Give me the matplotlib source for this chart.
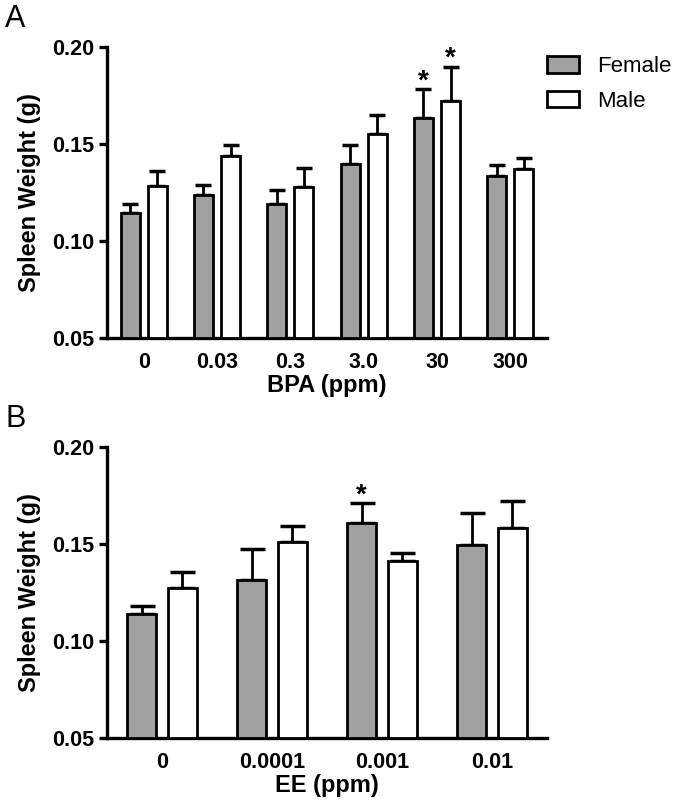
import numpy as np
import matplotlib
matplotlib.use("Agg")
import matplotlib.pyplot as plt
import matplotlib.patches as mpatches

plt.rcParams['font.family'] = ['Liberation Sans', 'DejaVu Sans']

# panel A: BPA
bpa_doses = ["0", "0.03", "0.3", "3.0", "30", "300"]
bpa_female = [0.1145, 0.1236, 0.1189, 0.1399, 0.1635, 0.1333]
bpa_female_err = [0.0048, 0.0055, 0.0076, 0.0094, 0.0146, 0.0057]
bpa_male = [0.1282, 0.1440, 0.1280, 0.1549, 0.1721, 0.1373]
bpa_male_err = [0.0078, 0.0056, 0.0098, 0.0101, 0.0178, 0.0054]
bpa_sig_female = [False, False, False, False, True, False]
bpa_sig_male = [False, False, False, False, True, False]

# panel B: EE
ee_doses = ["0", "0.0001", "0.001", "0.01"]
ee_female = [0.1139, 0.1314, 0.1606, 0.1494]
ee_female_err = [0.0043, 0.0160, 0.0103, 0.0167]
ee_male = [0.1275, 0.1508, 0.1412, 0.1580]
ee_male_err = [0.0079, 0.0084, 0.0043, 0.0140]
ee_sig_female = [False, False, True, False]
ee_sig_male = [False, False, False, False]

GRAY = '#a0a0a0'
W, H = 675, 805


def drawPanel(ax, doses, female, female_err, male, male_err, sig_f, sig_m, xlabel, capsize):
    x = np.arange(len(doses))
    width = 0.26
    off = 0.185
    for xs, vals, errs, color, sig in [(x - off, female, female_err, GRAY, sig_f),
                                        (x + off, male, male_err, 'white', sig_m)]:
        ax.bar(xs, np.array(vals) - 0.05, width, bottom=0.05, color=color,
               edgecolor='black', linewidth=2.0, zorder=3)
        ax.errorbar(xs, vals, yerr=[np.zeros(len(vals)), errs], fmt='none',
                    ecolor='black', elinewidth=2.0, capsize=capsize, capthick=2.5, zorder=2)
        for xi, v, e, s in zip(xs, vals, errs, sig):
            if s:
                ax.annotate('*', (xi, v + e), xytext=(0, -3.5), textcoords='offset points',
                            ha='center', va='bottom', fontsize=20, fontweight='bold')

    ax.set_ylim(0.05, 0.20)
    ax.set_xlim(-0.5, len(doses) - 0.5)
    ax.set_yticks([0.05, 0.10, 0.15, 0.20])
    ax.set_yticklabels(['0.05', '0.10', '0.15', '0.20'])
    ax.set_xticks(x)
    ax.set_xticklabels(doses)
    ax.spines['top'].set_visible(False)
    ax.spines['right'].set_visible(False)
    ax.spines['left'].set_linewidth(2.4)
    ax.spines['bottom'].set_linewidth(2.4)
    ax.tick_params(axis='y', length=6, width=2.4, labelsize=15.5, pad=3)
    ax.tick_params(axis='x', length=0, labelsize=15.5, pad=10)
    for lab in ax.get_xticklabels() + ax.get_yticklabels():
        lab.set_fontweight('bold')
    ax.set_ylabel('Spleen Weight (g)', fontsize=17, fontweight='bold', labelpad=8)
    ax.set_xlabel(xlabel, fontsize=17, fontweight='bold', labelpad=1)


fig = plt.figure(figsize=(W / 100, H / 100), dpi=100)

ax_a = fig.add_axes([107 / W, 1 - 338 / H, (547 - 107) / W, (338 - 47) / H])
drawPanel(ax_a, bpa_doses, bpa_female, bpa_female_err, bpa_male, bpa_male_err,
          bpa_sig_female, bpa_sig_male, 'BPA (ppm)', 6)

ax_b = fig.add_axes([107 / W, 1 - 738 / H, (547 - 107) / W, (738 - 447) / H])
drawPanel(ax_b, ee_doses, ee_female, ee_female_err, ee_male, ee_male_err,
          ee_sig_female, ee_sig_male, 'EE (ppm)', 9)

handles = [mpatches.Patch(facecolor=GRAY, edgecolor='black', linewidth=2.0, label='Female'),
           mpatches.Patch(facecolor='white', edgecolor='black', linewidth=2.0, label='Male')]
fig.legend(handles=handles, loc='upper left', bbox_to_anchor=(547 / W, 1 - 56 / H),
           frameon=False, fontsize=16, handlelength=1.44, handleheight=0.77,
           handletextpad=0.8, labelspacing=0.62, borderpad=0, borderaxespad=0)

fig.text(5 / W, 1 - 4 / H, 'A', fontsize=22, ha='left', va='top')
fig.text(5 / W, 1 - 404 / H, 'B', fontsize=22, ha='left', va='top')

fig.savefig('out.png', dpi=100)
